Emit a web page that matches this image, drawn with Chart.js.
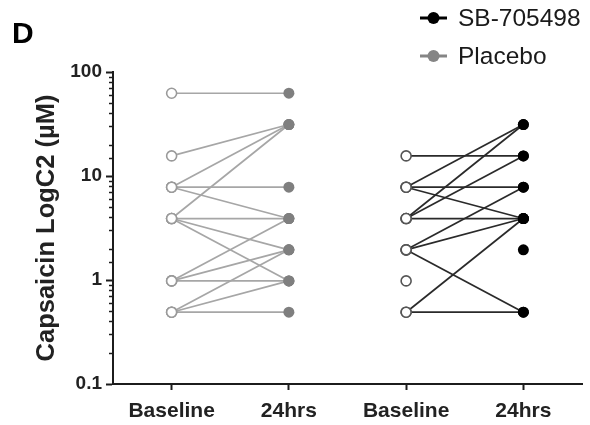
<!DOCTYPE html>
<html>
<head>
<meta charset="utf-8">
<script src="https://cdn.jsdelivr.net/npm/chart.js@4.4.0/dist/chart.umd.min.js"></script>
<style>
  html, body { margin: 0; padding: 0; background: #fff; }
  #wrap { width: 590px; height: 425px; position: relative; }
</style>
</head>
<body>
<div id="wrap"><canvas id="c" width="590" height="425"></canvas></div>
<script>
// ---- data ----
const categories = ['Baseline', '24hrs', 'Baseline', '24hrs'];
const yTickLabels = [0.1, 1, 10, 100];
const panelLabel = 'D';
const yTitle = 'Capsaicin LogC2 (\u00b5M)';
const seriesNames = ['SB-705498', 'Placebo'];

// Placebo: one entry per subject (baseline -> 24hrs)
const placeboBaseline = [62.5, 15.6, 7.8, 7.8, 7.8, 3.9, 3.9, 3.9, 3.9, 0.98, 0.98, 0.98, 0.49, 0.49, 0.49];
const placebo24hrs    = [62.5, 31.25, 31.25, 7.8, 3.9, 31.25, 3.9, 1.95, 0.98, 3.9, 1.95, 0.98, 1.95, 0.98, 0.49];

// SB-705498: one entry per subject (null = not shown)
const sbBaseline = [15.6, 7.8, 7.8, 7.8, 3.9, 3.9, 3.9, 1.95, 1.95, 1.95, 0.49, 0.49, 0.98, null];
const sb24hrs    = [15.6, 31.25, 7.8, 3.9, 31.25, 15.6, 3.9, 7.8, 3.9, 0.49, 3.9, 0.49, null, 1.95];

// ---- styles ----
const FONT = '"Liberation Sans", Arial, Helvetica, sans-serif';
const INK = '#1c1c1c';
const groups = [
  { name: seriesNames[1], base: placeboBaseline, after: placebo24hrs, x0: 0, x1: 1,
    line: '#a6a6a6', open: '#9a9a9a', fill: '#7f7f7f' },
  { name: seriesNames[0], base: sbBaseline, after: sb24hrs, x0: 2, x1: 3,
    line: '#2a2a2a', open: '#555555', fill: '#000000' }
];

const datasets = [];
groups.forEach(g => {
  g.base.forEach((b, i) => {
    datasets.push({
      label: g.name,
      data: [{ x: g.x0, y: b }, { x: g.x1, y: g.after[i] }],
      borderColor: g.line,
      borderWidth: 1.7,
      spanGaps: false,
      pointRadius: [5, 5.5],
      pointHoverRadius: [5, 5.5],
      pointBorderWidth: [1.6, 0],
      pointBorderColor: [g.open, g.fill],
      pointBackgroundColor: ['#ffffff', g.fill],
      tension: 0
    });
  });
});

function isMajor(v) {
  const l = Math.log10(v);
  return Math.abs(l - Math.round(l)) < 1e-9;
}

const decorPlugin = {
  id: 'decor',
  afterDraw(chart) {
    const ctx = chart.ctx;
    const ys = chart.scales.y;
    ctx.save();
    // minor y ticks (shorter)
    ctx.strokeStyle = INK;
    ctx.lineWidth = 1.5;
    ys.ticks.forEach(t => {
      if (!isMajor(t.value)) {
        const py = Math.round(ys.getPixelForValue(t.value)) + 0.5;
        ctx.beginPath();
        ctx.moveTo(ys.right - 4, py);
        ctx.lineTo(ys.right, py);
        ctx.stroke();
      }
    });
    // panel label
    ctx.fillStyle = '#000';
    ctx.font = 'bold 30px ' + FONT;
    ctx.textBaseline = 'alphabetic';
    ctx.textAlign = 'left';
    ctx.fillText(panelLabel, 12, 43);
    // legend
    const items = [
      { name: seriesNames[0], color: '#000000', y: 18 },
      { name: seriesNames[1], color: '#858585', y: 56 }
    ];
    items.forEach(it => {
      ctx.strokeStyle = it.color;
      ctx.lineWidth = 3;
      ctx.beginPath();
      ctx.moveTo(420, it.y);
      ctx.lineTo(447, it.y);
      ctx.stroke();
      ctx.fillStyle = it.color;
      ctx.beginPath();
      ctx.arc(433.5, it.y, 6, 0, Math.PI * 2);
      ctx.fill();
      ctx.fillStyle = '#1a1a1a';
      ctx.font = '24.5px ' + FONT;
      ctx.textBaseline = 'middle';
      ctx.fillText(it.name, 458, it.y + 1);
    });
    ctx.restore();
  }
};

new Chart(document.getElementById('c'), {
  type: 'line',
  data: { datasets },
  plugins: [decorPlugin],
  options: {
    responsive: false,
    animation: false,
    devicePixelRatio: 1,
    layout: { padding: { top: 72, right: 8, left: 0, bottom: 0 } },
    plugins: { legend: { display: false }, tooltip: { enabled: false }, title: { display: false } },
    scales: {
      x: {
        type: 'linear',
        min: -0.5,
        max: 3.5,
        afterBuildTicks: s => { s.ticks = categories.map((c, i) => ({ value: i })); },
        afterFit: s => { s.height = 41; },
        border: { display: true, color: INK, width: 2 },
        grid: { drawOnChartArea: false, drawTicks: true, tickLength: 6, tickColor: INK, tickWidth: 2 },
        ticks: {
          autoSkip: false,
          maxRotation: 0,
          padding: 9,
          color: '#222',
          font: { family: FONT, size: 21, weight: 'bold' },
          callback: v => categories[v] !== undefined ? categories[v] : ''
        }
      },
      y: {
        type: 'logarithmic',
        min: 0.1,
        max: 100,
        afterFit: s => { s.width = 113; },
        border: { display: true, color: INK, width: 2 },
        grid: {
          drawOnChartArea: false,
          drawTicks: true,
          tickLength: 7,
          tickColor: c => (c.tick && isMajor(c.tick.value)) ? INK : 'rgba(0,0,0,0)',
          tickWidth: 2
        },
        ticks: {
          autoSkip: false,
          padding: 4,
          color: '#222',
          font: { family: FONT, size: 19, weight: 'bold' },
          callback: v => {
            const hit = yTickLabels.find(t => Math.abs(t - v) < 1e-9);
            return hit !== undefined ? String(hit) : '';
          }
        },
        title: {
          display: true,
          text: yTitle,
          color: '#222',
          font: { family: FONT, size: 25.5, weight: 'bold' },
          padding: { top: 32, bottom: 4 }
        }
      }
    }
  }
});
</script>
</body>
</html>
